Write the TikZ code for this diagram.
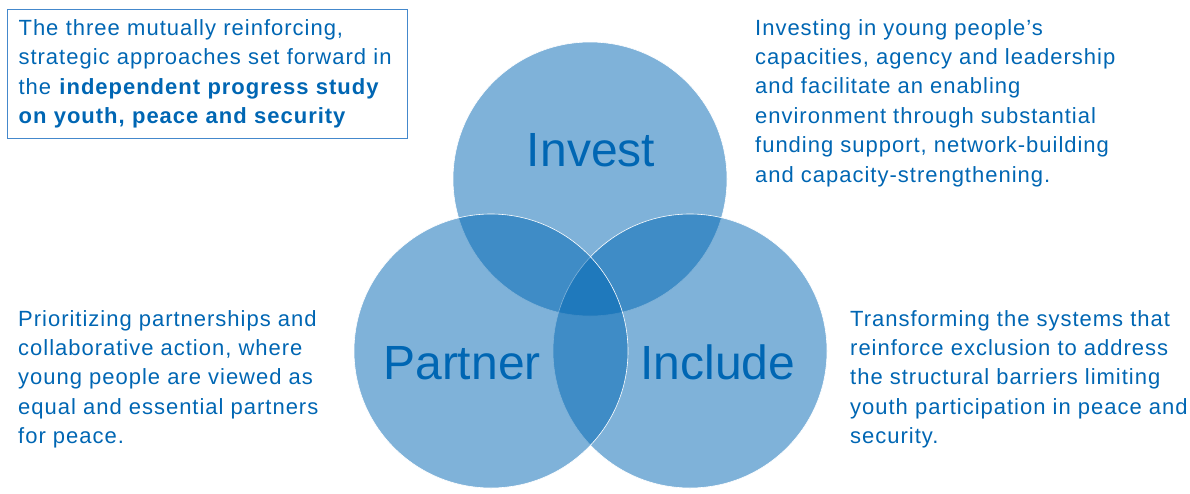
\documentclass[tikz,border=0pt]{standalone}
\usepackage{fontspec}
\setmainfont{Liberation Sans}
\newfontfamily\bodyfont[LetterSpace=4.5]{Liberation Sans}
\definecolor{unblue}{RGB}{0,102,179}
\definecolor{boxblue}{RGB}{68,136,204}

\begin{document}
\begin{tikzpicture}[x=1pt,y=-1pt,
  ring/.style={circle, minimum size=274pt, inner sep=0pt, draw=white, line width=0.6pt, fill=unblue, fill opacity=0.5},
  word/.style={text=unblue, font=\fontsize{48}{48}\selectfont, inner sep=0pt, anchor=base},
  para/.style={text=unblue, font=\bodyfont\fontsize{22}{29.4}\selectfont, align=left, inner sep=0pt, anchor=north west}]
  \useasboundingbox (0,0) rectangle (1190,493);

  \node[ring] (invest) at (590,179) {};
  \node[ring] (include) at (690,351) {};
  \node[ring] (partner) at (491,351) {};

  \node[word] (investlbl) at (591,166) {Invest};
  \node[word] (partnerlbl) at (462,379) {Partner};
  \node[word] (includelbl) at (718,379) {Include};

  \node[para, draw=boxblue, line width=1.2pt, inner xsep=11pt, inner ysep=10pt, text width=378pt] (study) at (7,9)
    {The three mutually reinforcing,\\ strategic approaches set forward in\\ the \textbf{independent progress study}\\ \textbf{on youth, peace and security}};
  \node[para] (investtxt) at (755,19)
    {Investing in young people’s\\ capacities, agency and leadership\\ and facilitate an enabling\\ environment through substantial\\ funding support, network-building\\ and capacity-strengthening.};
  \node[para] (partnertxt) at (18,310)
    {Prioritizing partnerships and\\ collaborative action, where\\ young people are viewed as\\ equal and essential partners\\ for peace.};
  \node[para] (includetxt) at (850,310)
    {Transforming the systems that\\ reinforce exclusion to address\\ the structural barriers limiting\\ youth participation in peace and\\ security.};
\end{tikzpicture}
\end{document}
